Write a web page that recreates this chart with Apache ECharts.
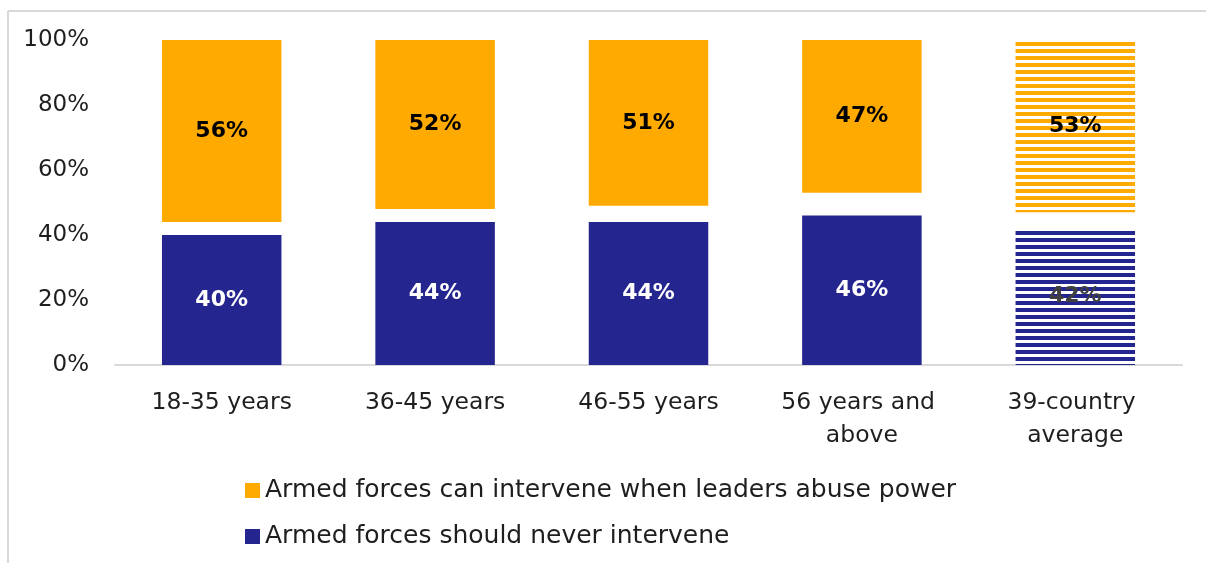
<!DOCTYPE html>
<html>
<head>
<meta charset="utf-8">
<script src="https://cdn.jsdelivr.net/npm/echarts@6/dist/echarts.min.js"></script>
<style>
	html, body { margin: 0; padding: 0; background: #fff; }
	#chart { width: 1206px; height: 563px; }
</style>
</head>
<body>
<div id="chart"></div>
<script>
// data
var categories = ["18-35 years", "36-45 years", "46-55 years", "56 years and above", "39-country average"];
var canIntervene = [56, 52, 51, 47, 53];
var neverIntervene = [40, 44, 44, 46, 42];
var yTicks = [0, 20, 40, 60, 80, 100];
var nameCan = "Armed forces can intervene when leaders abuse power";
var nameNever = "Armed forces should never intervene";

var orange = "#FFAA00",
	blue = "#25258F";
var font = "DejaVu Sans";

var chart = echarts.init(document.getElementById("chart"), null, { renderer: "canvas" });

// the last bar (average) is drawn striped
function stripes(color) {
	return {
		color: color,
		symbol: "rect",
		symbolSize: 1,
		dashArrayX: [1, 0],
		dashArrayY: [3.2, 2.3],
		rotation: 0
	};
}

var neverData = neverIntervene.map(function (v, i) {
	if (i === categories.length - 1) {
		return {
			value: v,
			itemStyle: { color: "#fff", decal: stripes(blue) },
			label: { color: "#404040" }
		};
	}
	return v;
});
var canData = canIntervene.map(function (v, i) {
	if (i === categories.length - 1) {
		return {
			value: v,
			itemStyle: { color: "#fff", decal: stripes(orange) }
		};
	}
	return v;
});
// white gap between the two parts (don't know / refused)
var gapData = canIntervene.map(function (v, i) {
	return 100 - v - neverIntervene[i];
});

var labelStyle = {
	show: true,
	position: "inside",
	fontFamily: font,
	fontWeight: "bold",
	fontSize: 22,
	formatter: "{c}%"
};

var option = {
	animation: false,
	aria: { enabled: false, decal: { show: false } },
	grid: { left: 115, right: 24, top: 40, bottom: 198 },
	legend: {
		orient: "vertical",
		left: 240,
		top: 473,
		itemWidth: 15,
		itemHeight: 15,
		itemGap: 21,
		icon: "rect",
		data: [nameCan, nameNever],
		textStyle: { fontFamily: font, fontSize: 25, color: "#1e1e1e" }
	},
	xAxis: {
		type: "category",
		data: categories,
		axisTick: { show: false },
		axisLine: { lineStyle: { color: "#d9d9d9", width: 2 } },
		axisLabel: {
			fontFamily: font,
			fontSize: 23.5,
			color: "#1e1e1e",
			margin: 21,
			lineHeight: 33,
			width: 190,
			overflow: "break",
			interval: 0
		}
	},
	yAxis: {
		type: "value",
		min: 0,
		max: 100,
		interval: 20,
		splitLine: { show: false },
		axisLine: { show: false },
		axisLabel: {
			fontFamily: font,
			fontSize: 23,
			color: "#1e1e1e",
			margin: 26,
			formatter: function (v) {
				return yTicks.indexOf(v) >= 0 ? v + "%" : "";
			}
		}
	},
	graphic: [
		{ type: "line", shape: { x1: 8, y1: 11, x2: 1206, y2: 11 }, style: { stroke: "#d9d9d9", lineWidth: 2 } },
		{ type: "line", shape: { x1: 8, y1: 11, x2: 8, y2: 563 }, style: { stroke: "#d9d9d9", lineWidth: 2 } }
	],
	series: [
		{
			name: nameNever,
			type: "bar",
			stack: "all",
			barWidth: "56%",
			itemStyle: { color: blue },
			label: Object.assign({}, labelStyle, { color: "#fff" }),
			data: neverData
		},
		{
			name: "gap",
			type: "bar",
			stack: "all",
			itemStyle: { color: "transparent" },
			silent: true,
			data: gapData
		},
		{
			name: nameCan,
			type: "bar",
			stack: "all",
			itemStyle: { color: orange },
			label: Object.assign({}, labelStyle, { color: "#000" }),
			data: canData
		}
	]
};
chart.setOption(option);
</script>
</body>
</html>
